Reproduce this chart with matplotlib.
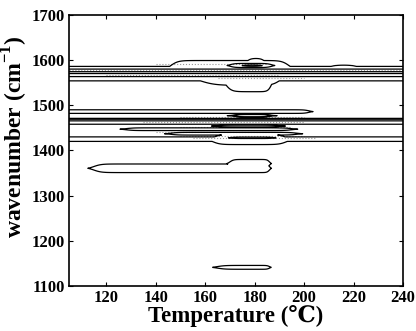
import numpy as np
import matplotlib
matplotlib.use("Agg")
from matplotlib import pyplot as plt

# contour regions: height, wavenumber range, temperature range
# (t range 90..260 means the region runs across the whole plot)
feat_h = [1, 1, 1, 1, 1, 2, 3, 2, 3, 1,
          1, 1, 2, 1, 1, 1, 1, 2, 2, 1,
          1, 1, 1]
feat_w_lo = [1554, 1560, 1565, 1530, 1544, 1563, 1569.5, 1583, 1585.5, 1575,
             1482, 1458, 1465, 1420, 1413, 1444, 1434, 1474, 1426, 1452,
             1351, 1362, 1137]
feat_w_hi = [1586, 1599, 1604, 1590, 1578, 1580.5, 1575, 1593, 1590, 1589,
             1490, 1471, 1469.5, 1430, 1435, 1450, 1440, 1480, 1430, 1456,
             1370, 1380, 1145.5]
feat_t_lo = [90, 146, 176, 168, 158, 90, 90, 170, 175, 210,
             90, 90, 90, 90, 163, 128, 146, 172, 170, 165,
             115, 170, 165]
feat_t_hi = [260, 194, 185, 187, 190, 260, 260, 187, 183, 222,
             202, 260, 260, 260, 193, 195, 197, 186, 188, 190,
             186, 186, 186]
# how gradually each region closes at its left / right end (deg C)
feat_soft_lo = [3, 3, 2, 2.5, 6, 3, 3, 2, 2, 3,
                3, 3, 3, 3, 3, 3, 3, 2, 2, 3,
                3, 1.5, 3]
feat_soft_hi = [3, 3, 2, 1.5, 3, 3, 3, 2, 2, 3,
                2, 3, 3, 3, 3, 3, 3, 2, 2, 3,
                1.0, 1.0, 1.0]

# faint grey dotted traces seen between the black contours
tex_w = [1592, 1577, 1560, 1566, 1475, 1462, 1452, 1440, 1433, 1427]
tex_t_lo = [140, 105, 165, 120, 150, 135, 150, 140, 150, 155]
tex_t_hi = [185, 240, 200, 190, 200, 200, 195, 190, 200, 205]

temp = np.linspace(100, 245, 700)
wave = np.linspace(1100, 1700, 1201)
T, W = np.meshgrid(temp, wave)


def step(x, soft):
    return 0.5 * (1 + np.tanh(x / soft))


Z = np.zeros_like(T)
for h, wl, wh, tl, th, sl, sh in zip(feat_h, feat_w_lo, feat_w_hi, feat_t_lo, feat_t_hi,
                                     feat_soft_lo, feat_soft_hi):
    c = (wl + wh) / 2
    hw = (wh - wl) / 2
    taper = 1.2 * step(T - tl, sl) * step(th - T, sh) - 0.2
    ind = step(hw * taper - np.abs(W - c), 0.8)
    Z = np.maximum(Z, h * ind)

plt.rcParams['font.family'] = ['Liberation Serif', 'DejaVu Serif']
plt.rcParams['font.weight'] = 'bold'
plt.rcParams['mathtext.fontset'] = 'custom'
plt.rcParams['mathtext.rm'] = 'Liberation Serif:bold'
plt.rcParams['mathtext.bf'] = 'Liberation Serif:bold'

fig = plt.figure(figsize=(4.16, 3.31), dpi=100)
ax = fig.add_axes([0.166, 0.136, 0.803, 0.819])
ax.hlines(tex_w, tex_t_lo, tex_t_hi, colors='0.6', linestyles=':', linewidth=0.8)
ax.contour(T, W, Z, levels=[0.5, 1.5, 2.5], colors='black', linewidths=0.9)

ax.set_xlim(105, 240)
ax.set_ylim(1100, 1700)
ax.set_xticks(np.arange(120, 241, 20))
ax.set_yticks(np.arange(1100, 1701, 100))
ax.tick_params(direction='in', top=True, right=True, labelsize=12, length=3, width=0.8, pad=3)
for lab in ax.get_xticklabels() + ax.get_yticklabels():
    lab.set_fontweight('bold')
for sp in ax.spines.values():
    sp.set_linewidth(1.2)
ax.set_xlabel("Temperature (\u2103)", fontsize=16.5, fontweight='bold', labelpad=-1)
ax.set_ylabel("wavenumber (cm$^{\\mathbf{-1}}$)", fontsize=17, fontweight='bold')
ax.yaxis.set_label_coords(-0.118, 0.55)

fig.savefig("out.png", dpi=100)
